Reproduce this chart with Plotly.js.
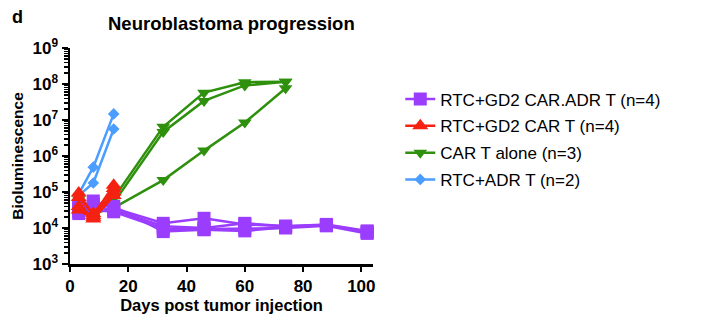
<!DOCTYPE html>
<html><head><meta charset="utf-8">
<script src="https://cdn.plot.ly/plotly-3.0.1.min.js"></script>
<style>body{margin:0;background:#fff}#c{width:701px;height:321px}</style>
</head><body><div id="c"></div>
<script>
// Days of imaging
const daysPurple = [3, 8, 15, 32, 46, 60, 74, 88, 102];
const daysRed = [3, 8, 15];
const daysBlue = [3, 8, 15];
const daysGreen = [3, 8, 15, 32, 46, 60, 74];

// log10 bioluminescence per mouse
const purpleLog = [
  [4.55, 4.75, 4.55, 4.13, 4.27, 4.10, 4.05, 4.10, 3.92],
  [4.45, 4.60, 4.50, 4.05, 4.00, 4.13, 4.05, 4.08, 3.88],
  [4.60, 4.50, 4.45, 3.98, 3.97, 3.98, 4.00, 4.06, 3.85],
  [4.40, 4.65, 4.60, 3.90, 3.95, 3.92, 4.02, 4.08, 3.90]
];
const redLog = [
  [4.97, 4.35, 5.19],
  [4.85, 4.40, 5.10],
  [4.60, 4.30, 5.00],
  [4.50, 4.25, 4.90]
];
const greenLog = [
  [4.80, 4.55, 4.83, 6.81, 7.76, 8.05, 8.06],
  [4.70, 4.50, 4.70, 6.67, 7.53, 7.96, 8.06],
  [4.60, 4.40, 4.56, 5.33, 6.15, 6.93, 7.88]
];
const blueLog = [
  [4.95, 5.69, 7.17],
  [4.90, 5.25, 6.75]
];

const groupNames = ['RTC+GD2 CAR.ADR T (n=4)', 'RTC+GD2 CAR T (n=4)', 'CAR T alone (n=3)', 'RTC+ADR T (n=2)'];
const yTickVals = [1e3, 1e4, 1e5, 1e6, 1e7, 1e8, 1e9];
const yTickText = ['10<sup>3</sup>', '10<sup>4</sup>', '10<sup>5</sup>', '10<sup>6</sup>', '10<sup>7</sup>', '10<sup>8</sup>', '10<sup>9</sup>'];
const xTickVals = [0, 20, 40, 60, 80, 100];

const groups = [
  {name: groupNames[0], days: daysPurple, data: purpleLog, color: '#9B3DFF', symbol: 'square', size: 13},
  {name: groupNames[1], days: daysRed, data: redLog, color: '#F52211', symbol: 'triangle-up', size: 14},
  {name: groupNames[2], days: daysGreen, data: greenLog, color: '#2E900C', symbol: 'triangle-down', size: 12},
  {name: groupNames[3], days: daysBlue, data: blueLog, color: '#4B9DFF', symbol: 'diamond', size: 9}
];

// draw order: green, purple, blue, red on top
const order = [2, 0, 3, 1];
const traces = [];
order.forEach(gi => {
  const g = groups[gi];
  g.data.forEach((row, i) => {
    traces.push({
      type: 'scatter', mode: 'lines+markers',
      x: g.days, y: row.map(v => Math.pow(10, v)),
      name: g.name, legendgroup: g.name, showlegend: i === 0,
      legendrank: gi + 1,
      line: {color: g.color, width: 2.5},
      marker: {color: g.color, symbol: g.symbol, size: g.size},
      cliponaxis: false
    });
  });
});

const layout = {
  width: 701, height: 321,
  margin: {l: 70, r: 328, t: 48, b: 57},
  paper_bgcolor: '#fff', plot_bgcolor: '#fff',
  font: {family: 'Liberation Sans, Arial, sans-serif', color: '#000'},
  title: {text: '<b>Neuroblastoma progression</b>', font: {size: 18.5}, x: 108 / 701, xref: 'container', xanchor: 'left', y: 1 - 24 / 321, yref: 'container', yanchor: 'middle'},
  annotations: [{text: '<b>d</b>', xref: 'paper', yref: 'paper', x: -60 / 303, y: 1 + 31 / 216, xanchor: 'left', yanchor: 'middle', showarrow: false, font: {size: 18}}],
  xaxis: {
    range: [0, 104], showline: true, linecolor: '#000', linewidth: 2.5,
    ticks: 'outside', ticklen: 5, tickwidth: 2, tickcolor: '#000',
    tickvals: xTickVals, ticktext: xTickVals.map(v => '<b>' + v + '</b>'),
    tickfont: {size: 17}, showgrid: false, zeroline: false,
    title: {text: '<b>Days post tumor injection</b>', font: {size: 16.5}, standoff: 2}
  },
  yaxis: {
    type: 'log', range: [3, 9], showline: true, linecolor: '#000', linewidth: 2.5,
    ticks: 'outside', ticklen: 6, tickwidth: 2, tickcolor: '#000',
    tickvals: yTickVals, ticktext: yTickText.map(t => '<b>' + t + '</b>'),
    tickfont: {size: 17}, showgrid: false, zeroline: false,
    minor: {ticks: 'outside', ticklen: 4, tickwidth: 1.5, tickcolor: '#000', dtick: 'D1', showgrid: false},
    title: {text: '<b>Bioluminescence</b>', font: {size: 15.5}, standoff: 5}
  },
  legend: {
    x: 1.09, y: 0.845, xanchor: 'left', yanchor: 'top',
    font: {size: 17}, tracegroupgap: 1.7, itemwidth: 30,
    bgcolor: 'rgba(0,0,0,0)'
  }
};
Plotly.newPlot('c', traces, layout, {displayModeBar: false, staticPlot: true});
</script></body></html>
